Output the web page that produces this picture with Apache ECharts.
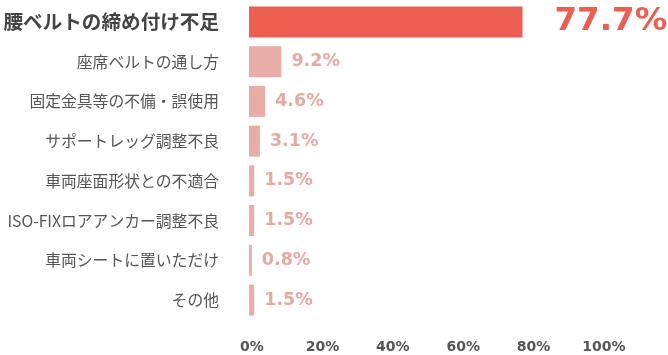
<!DOCTYPE html>
<html><head><meta charset="utf-8">
<script src="https://cdn.jsdelivr.net/npm/echarts@6/dist/echarts.min.js"></script>
<style>html,body{margin:0;padding:0;background:#fff}#c{width:668px;height:355px}</style>
</head><body><div id="c"></div>
<script>
const categories = ['腰ベルトの締め付け不足','座席ベルトの通し方','固定金具等の不備・誤使用','サポートレッグ調整不良','車両座面形状との不適合','ISO-FIXロアアンカー調整不良','車両シートに置いただけ','その他'];
const values = [77.7, 9.2, 4.6, 3.1, 1.5, 1.5, 0.8, 1.5];
const xTicks = [0, 20, 40, 60, 80, 100];

const chart = echarts.init(document.getElementById('c'));
const jp = '"Noto Sans CJK JP","Noto Sans",sans-serif';
const num = '"DejaVu Sans",sans-serif';
chart.setOption({
  animation: false,
  grid: {left: 249, right: 67, top: 2, bottom: 35},
  xAxis: {
    type: 'value', min: xTicks[0], max: xTicks[xTicks.length-1], interval: 20,
    splitLine: {show: false}, axisLine: {show: false}, axisTick: {show: false},
    axisLabel: {formatter: '{value}%', color: '#555', fontFamily: num, fontWeight: 'bold', fontSize: 14, margin: 20, padding: [0,0,0,6]}
  },
  yAxis: {
    type: 'category', data: categories, inverse: true,
    axisLine: {show: false}, axisTick: {show: false},
    axisLabel: {
      margin: 30,
      formatter: (v, i) => i === 0 ? '{a|' + v + '}' : '{b|' + v + '}',
      rich: {
        a: {fontFamily: jp, fontSize: 19.6, fontWeight: 'bold', color: '#444'},
        b: {fontFamily: jp, fontSize: 15.8, color: '#555'}
      }
    }
  },
  series: [{
    type: 'bar', barWidth: 31,
    data: values.map((v, i) => ({
      value: v,
      itemStyle: {color: i === 0 ? '#EB5E50' : '#E8ADA7'},
      label: i === 0 ? {fontSize: 32.5, color: '#EB5E50', distance: 32} : {}
    })),
    label: {show: true, position: 'right', distance: 10, formatter: '{c}%', fontFamily: num, fontWeight: 'bold', fontSize: 17.5, color: '#E6A9A4'}
  }]
});
</script></body></html>
